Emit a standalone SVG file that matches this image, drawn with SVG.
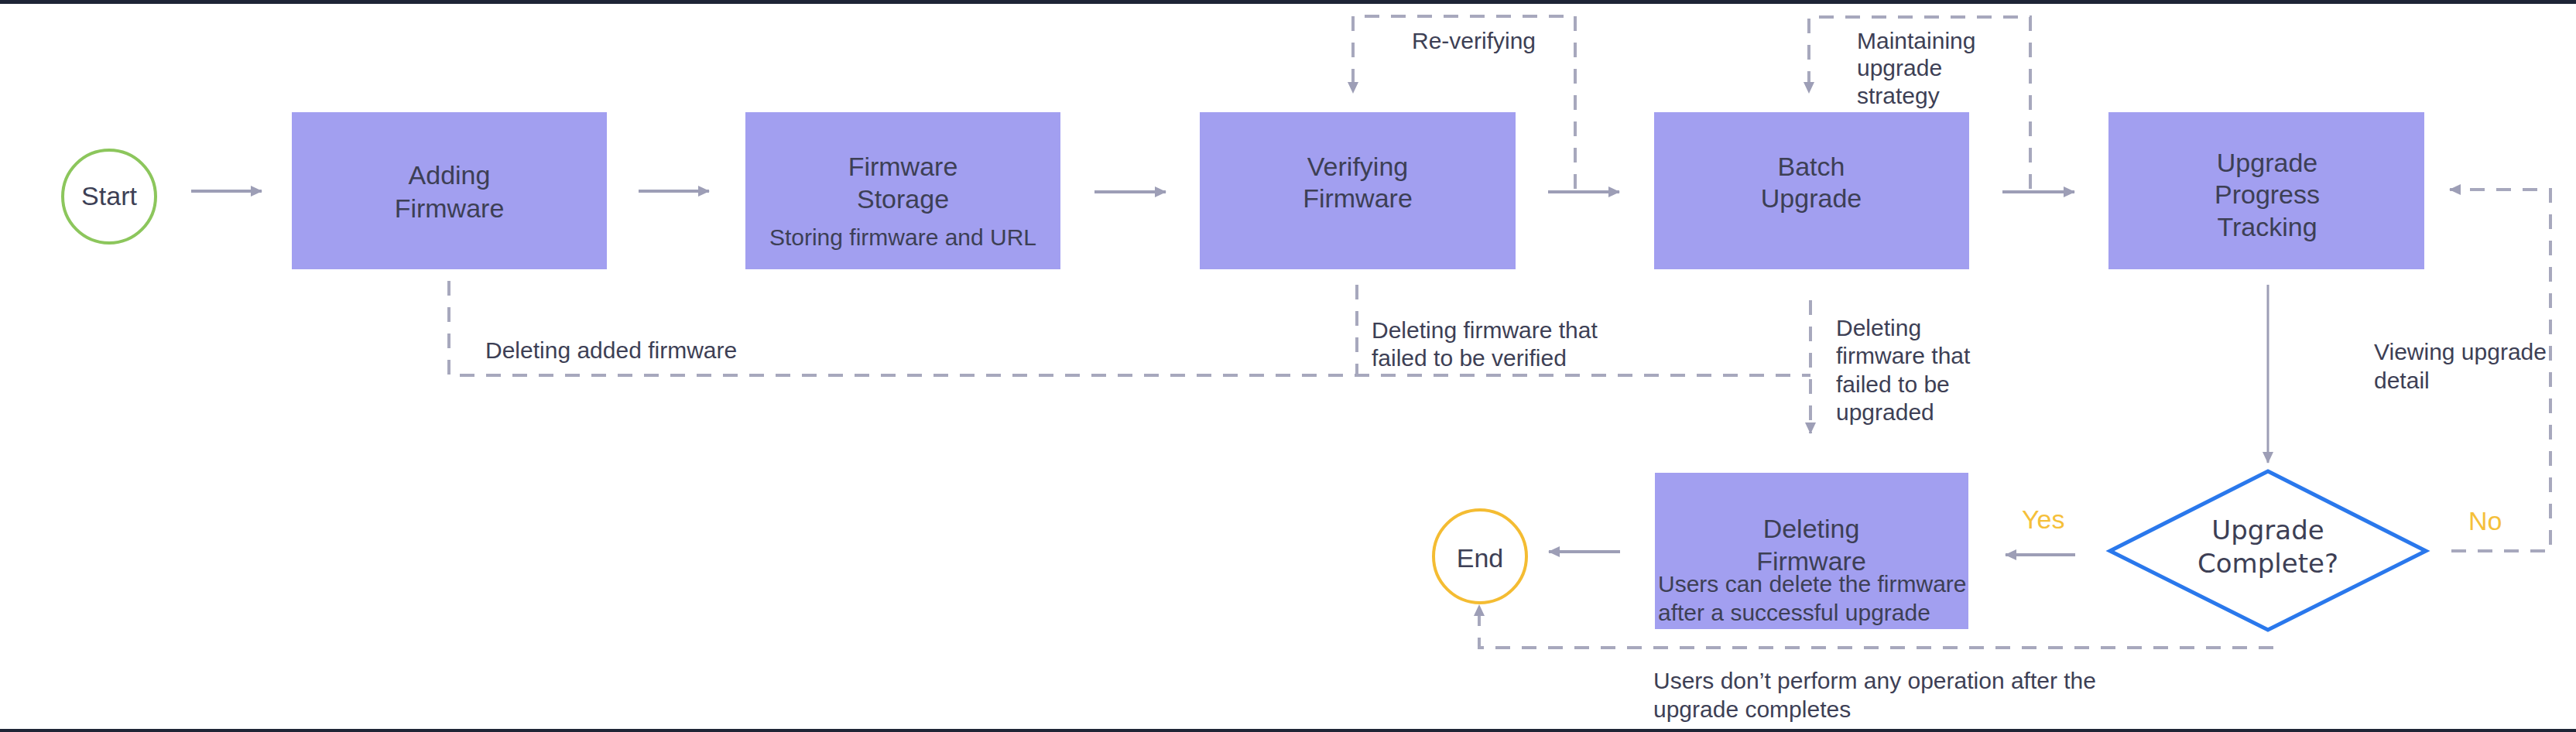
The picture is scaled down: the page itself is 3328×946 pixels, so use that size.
<svg xmlns="http://www.w3.org/2000/svg" width="3328" height="946" viewBox="0 0 3328 946">
<defs>
<style>
.box{fill:#a29ff0;}
.t{font-family:"Liberation Sans",Arial,sans-serif;fill:#3d3f55;}
.title{font-size:34px;text-anchor:middle;}
.small{font-size:30px;}
.yn{font-family:"Liberation Sans",Arial,sans-serif;font-size:34px;fill:#f5c03a;}
.solid{fill:none;stroke:#9d9eb6;stroke-width:4;}
.dash{fill:none;stroke:#a7a8bd;stroke-width:4;stroke-dasharray:19 15;}
</style>
<marker id="ah" markerUnits="userSpaceOnUse" markerWidth="16" markerHeight="16" viewBox="0 0 16 16" refX="14" refY="8" orient="auto">
<path d="M0,1 L15,8 L0,15 Z" fill="#9d9eb6"/>
</marker>
</defs>
<rect x="0" y="0" width="3328" height="946" fill="#ffffff"/>
<rect x="0" y="0" width="3328" height="5" fill="#1e2536"/>
<rect x="0" y="942" width="3328" height="4" fill="#1e2536"/>

<g id="connectors">
<line class="solid" x1="247" y1="247" x2="338" y2="247" marker-end="url(#ah)"/>
<line class="solid" x1="825" y1="247" x2="916" y2="247" marker-end="url(#ah)"/>
<line class="solid" x1="1414" y1="248" x2="1506" y2="248" marker-end="url(#ah)"/>
<line class="solid" x1="2000" y1="248" x2="2092" y2="248" marker-end="url(#ah)"/>
<line class="solid" x1="2587" y1="248" x2="2680" y2="248" marker-end="url(#ah)"/>
<line class="solid" x1="2930" y1="368" x2="2930" y2="598" style="stroke-width:3" marker-end="url(#ah)"/>
<line class="solid" x1="2681" y1="717" x2="2591" y2="717" marker-end="url(#ah)"/>
<line class="solid" x1="2093" y1="713" x2="2001" y2="713" marker-end="url(#ah)"/>
<path class="dash" d="M2035,244 V21 H1748 V120" marker-end="url(#ah)"/>
<path class="dash" d="M2623,244 V22 H2337 V120" marker-end="url(#ah)"/>
<path class="dash" d="M580,363 V485 H2339"/>
<path class="dash" d="M1753,368 V485"/>
<path class="dash" d="M2339,388 V560" marker-end="url(#ah)"/>
<path class="dash" d="M3167,712 H3295 V245 H3165" marker-end="url(#ah)"/>
<path class="dash" d="M2937,837 H1911 V782" marker-end="url(#ah)"/>
<text class="t small" x="1824" y="63">Re-verifying</text>
<text class="t small" x="2399" y="63">Maintaining</text>
<text class="t small" x="2399" y="98">upgrade</text>
<text class="t small" x="2399" y="134">strategy</text>
<text class="t small" x="627" y="463">Deleting added firmware</text>
<text class="t small" x="1772" y="437">Deleting firmware that</text>
<text class="t small" x="1772" y="473">failed to be verified</text>
<text class="t small" x="2372" y="434">Deleting</text>
<text class="t small" x="2372" y="470">firmware that</text>
<text class="t small" x="2372" y="507">failed to be</text>
<text class="t small" x="2372" y="543">upgraded</text>
<text class="t small" x="3067" y="465">Viewing upgrade</text>
<text class="t small" x="3067" y="502">detail</text>
<text class="yn" x="2612" y="683">Yes</text>
<text class="yn" x="3189" y="685">No</text>
<text class="t small" x="2136" y="890">Users don’t perform any operation after the</text>
<text class="t small" x="2136" y="927">upgrade completes</text>
</g>

<g id="start">
<circle cx="141" cy="254" r="60" fill="#ffffff" stroke="#8cc65c" stroke-width="4"/>
<text class="t title" x="141" y="265">Start</text>
</g>
<g id="adding-firmware">
<rect class="box" x="377" y="145" width="407" height="203"/>
<text class="t title" x="580.5" y="238">Adding</text>
<text class="t title" x="580.5" y="281">Firmware</text>
</g>
<g id="firmware-storage">
<rect class="box" x="963" y="145" width="407" height="203"/>
<text class="t title" x="1166.5" y="227">Firmware</text>
<text class="t title" x="1166.5" y="269">Storage</text>
<text class="t small" x="1166.5" y="317" text-anchor="middle">Storing firmware and URL</text>
</g>
<g id="verifying-firmware">
<rect class="box" x="1550" y="145" width="408" height="203"/>
<text class="t title" x="1754" y="227">Verifying</text>
<text class="t title" x="1754" y="268">Firmware</text>
</g>
<g id="batch-upgrade">
<rect class="box" x="2137" y="145" width="407" height="203"/>
<text class="t title" x="2340" y="227">Batch</text>
<text class="t title" x="2340" y="268">Upgrade</text>
</g>
<g id="upgrade-progress-tracking">
<rect class="box" x="2724" y="145" width="408" height="203"/>
<text class="t title" x="2929" y="222">Upgrade</text>
<text class="t title" x="2929" y="263">Progress</text>
<text class="t title" x="2929" y="305">Tracking</text>
</g>
<g id="upgrade-complete">
<polygon points="2930,609 3134,712 2930,814 2726,712" fill="#ffffff" stroke="#2a78ec" stroke-width="5"/>
<text class="t title" x="2930" y="697" style="font-family:'DejaVu Sans',sans-serif">Upgrade</text>
<text class="t title" x="2930" y="740" style="font-family:'DejaVu Sans',sans-serif">Complete?</text>
</g>
<g id="deleting-firmware">
<rect class="box" x="2138" y="611" width="405" height="202"/>
<text class="t title" x="2340" y="695">Deleting</text>
<text class="t title" x="2340" y="737">Firmware</text>
<text class="t small" x="2142" y="765">Users can delete the firmware</text>
<text class="t small" x="2142" y="802">after a successful upgrade</text>
</g>
<g id="end">
<circle cx="1912" cy="719" r="60" fill="#ffffff" stroke="#f4bc32" stroke-width="4"/>
<text class="t title" x="1912" y="733">End</text>
</g>
</svg>
